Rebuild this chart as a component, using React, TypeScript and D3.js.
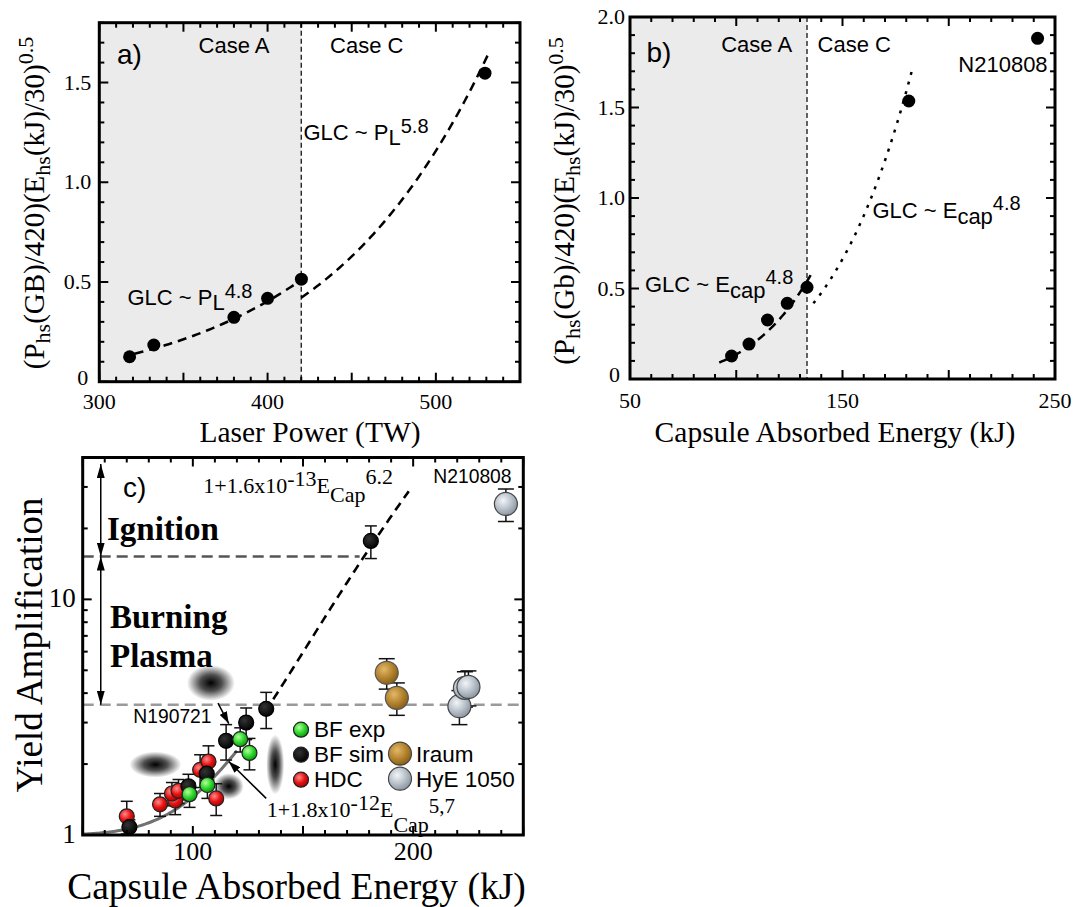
import React from 'react';
import * as d3 from 'd3';

const SERIF = '"Liberation Serif", "Times New Roman", serif';
const SANS = '"Liberation Sans", Arial, sans-serif';

// ---------------- Panel a data ----------------
const aLaserPower = [318, 332.4, 380, 400, 420.1, 529.2];
const aGlc = [0.125, 0.184, 0.323, 0.418, 0.514, 1.547];
const aXTicks = [300, 400, 500];
const aYTicks = [0, 0.5, 1.0, 1.5];
const aYTickLabels = ['0', '0.5', '1.0', '1.5'];
const aCaseBoundary = 420;
const aFitFrom = [321, 420];
const aFitTo = [422, 532];
const aFitAnchorX = [420, 420];
const aFitAnchorY = [0.51, 0.421];
const aFitExponent = [4.8, 5.8];

// ---------------- Panel b data ----------------
const bEnergy = [97.8, 106.0, 114.7, 124.0, 133.3, 181.2, 241.8];
const bGlc = [0.127, 0.193, 0.326, 0.418, 0.507, 1.536, 1.882];
const bXTicks = [50, 150, 250];
const bYTicks = [0, 0.5, 1.0, 1.5, 2.0];
const bYTickLabels = ['0', '0.5', '1.0', '1.5', '2.0'];
const bCaseBoundary = 133.3;
const bFitFrom = [92, 136.3];
const bFitTo = [136, 182.8];
const bFitAnchorX = [133.3, 136.3];
const bFitAnchorY = [0.54, 0.418];
const bFitExponent = [4.8, 4.8];

// ---------------- Panel c data ----------------
const cBfSimE = [71.2, 98.0, 106.3, 115.1, 124.2, 133.3, 180.8];
const cBfSimY = [1.08, 1.61, 1.82, 2.51, 3.0, 3.43, 17.7];
const cBfSimErr = [0.08, 0.2, 0.2, 0.43, 0.46, 0.6, 2.8];
const cBfExpE = [98.5, 106.6, 121.5, 125.7];
const cBfExpY = [1.49, 1.63, 2.55, 2.23];
const cBfExpErr = [0.18, 0.2, 0.3, 0.34];
const cHdcE = [70.0, 85.1, 92.0, 90.5, 93.5, 103.3, 107.1, 110.6];
const cHdcY = [1.2, 1.35, 1.4, 1.5, 1.54, 1.89, 2.05, 1.43];
const cHdcErr = [0.19, 0.15, 0.18, 0.17, 0.18, 0.3, 0.34, 0.22];
const cIraumE = [188.0, 192.6];
const cIraumY = [4.88, 3.82];
const cIraumErr = [0.72, 0.6];
const cHyeE = [221.0, 223.5, 225.1, 242.1];
const cHyeY = [3.52, 4.21, 4.25, 25.4];
const cHyeErr = [0.58, 0.72, 0.72, 4.0];
const cXTicks = [100, 200];
const cYTicks = [1, 10];
const cFitCoef = [1.8e-12, 1.6e-13];
const cFitExponent = [5.7, 6.2];
const cFitFrom = [50, 136.5];
const cFitTo = [120, 198];
const cIgnition = 15.2;
const cIgnitionEnd = 175.7;
const cBurning = 3.57;
const cArrowE = 58.2;
const cArrowTop = 37.5;
const cLegendLeft = ['BF exp', 'BF sim', 'HDC'];
const cLegendRight = ['Iraum', 'HyE 1050'];
// smudges in the reference picture (E, Y, rx, ry)
const cBlobE = [108.2, 83.0, 137.4, 116.3];
const cBlobY = [4.42, 1.99, 1.99, 1.61];
const cBlobRx = [24, 26, 9, 15];
const cBlobRy = [18, 13, 30, 13];

type Box = { left: number; right: number; top: number; bottom: number };

function Ticks({ box, xs, ys, xScale, yScale, xMajor, yMajor }: any) {
  const out: any[] = [];
  xs.forEach((v: number, i: number) => {
    const px = xScale(v);
    const len = xMajor(v) ? 9 : 5;
    out.push(<line key={'xb' + i} x1={px} x2={px} y1={box.bottom} y2={box.bottom - len} />);
    out.push(<line key={'xt' + i} x1={px} x2={px} y1={box.top} y2={box.top + len} />);
  });
  ys.forEach((v: number, i: number) => {
    const py = yScale(v);
    const len = yMajor(v) ? 9 : 5;
    out.push(<line key={'yl' + i} x1={box.left} x2={box.left + len} y1={py} y2={py} />);
    out.push(<line key={'yr' + i} x1={box.right} x2={box.right - len} y1={py} y2={py} />);
  });
  return <g stroke="#000" strokeWidth={2}>{out}</g>;
}

function powerFit(from: number, to: number, x0: number, y0: number, k: number) {
  return d3.range(61).map((i) => {
    const x = from + ((to - from) * i) / 60;
    return [x, y0 * Math.pow(x / x0, k)] as [number, number];
  });
}

const near = (v: number, step: number) => Math.abs(v / step - Math.round(v / step)) < 1e-6;

function PanelA() {
  const box: Box = { left: 99.3, right: 520, top: 22.7, bottom: 381.7 };
  const x = d3.scaleLinear().domain([300, 550]).range([box.left, box.right]);
  const y = d3.scaleLinear().domain([0, 1.8]).range([box.bottom, box.top]);
  const line = d3.line<[number, number]>().x((d) => x(d[0])).y((d) => y(d[1]));
  const xs = d3.range(300, 551, 10);
  const ys = d3.range(0, 19).map((i) => i / 10);
  return (
    <g>
      <rect x={box.left} y={box.top} width={x(aCaseBoundary) - box.left} height={box.bottom - box.top} fill="#ebebeb" />
      <line x1={x(aCaseBoundary)} x2={x(aCaseBoundary)} y1={box.top} y2={box.bottom} stroke="#000" strokeWidth={1.2} strokeDasharray="5,3" />
      {aFitFrom.map((f, i) => (
        <path key={i} d={line(powerFit(f, aFitTo[i], aFitAnchorX[i], aFitAnchorY[i], aFitExponent[i])) || ''} fill="none" stroke="#000" strokeWidth={2.5} strokeDasharray="9,6" />
      ))}
      {aLaserPower.map((p, i) => (
        <circle key={i} cx={x(p)} cy={y(aGlc[i])} r={6.5} fill="#000" />
      ))}
      <Ticks box={box} xs={xs} ys={ys} xScale={x} yScale={y} xMajor={(v: number) => near(v, 50)} yMajor={(v: number) => near(v, 0.5)} />
      <rect x={box.left} y={box.top} width={box.right - box.left} height={box.bottom - box.top} fill="none" stroke="#000" strokeWidth={3} />
      {aXTicks.map((t) => (
        <text key={t} x={x(t)} y={409} textAnchor="middle" fontFamily={SERIF} fontSize={22}>{t}</text>
      ))}
      {aYTicks.map((t, i) => (
        <text key={t} x={box.left - (t === 0 ? 11 : 8)} y={y(t) + (t === 0 ? 3 : 7)} textAnchor="end" fontFamily={SERIF} fontSize={22}>{aYTickLabels[i]}</text>
      ))}
      <text x={310} y={441.7} textAnchor="middle" fontFamily={SERIF} fontSize={29.5}>Laser Power (TW)</text>
      <text transform="translate(44,203) rotate(-90)" textAnchor="middle" fontFamily={SERIF} fontSize={29}>
        (P<tspan fontSize={22} dy={6}>hs</tspan><tspan dy={-6}>(GB)/420)(E</tspan><tspan fontSize={22} dy={6}>hs</tspan><tspan dy={-6}>(kJ)/30)</tspan><tspan fontSize={22} dy={-11}>0.5</tspan>
      </text>
      <text x={117} y={63.5} fontFamily={SANS} fontSize={28}>a)</text>
      <text x={234} y={53.3} textAnchor="middle" fontFamily={SANS} fontSize={22}>Case A</text>
      <text x={366.7} y={53.3} textAnchor="middle" fontFamily={SANS} fontSize={22}>Case C</text>
      <text x={303.5} y={140} fontFamily={SANS} fontSize={22}>
        GLC ~ P<tspan dy={5}>L</tspan><tspan dy={-12} fontSize={20}>5.8</tspan>
      </text>
      <text x={127.4} y={305} fontFamily={SANS} fontSize={22}>
        GLC ~ P<tspan dy={5}>L</tspan><tspan dy={-12} fontSize={20}>4.8</tspan>
      </text>
    </g>
  );
}

function PanelB() {
  const box: Box = { left: 630, right: 1055, top: 17, bottom: 379 };
  const x = d3.scaleLinear().domain([50, 250]).range([box.left, box.right]);
  const y = d3.scaleLinear().domain([0, 2]).range([box.bottom, box.top]);
  const line = d3.line<[number, number]>().x((d) => x(d[0])).y((d) => y(d[1]));
  const xs = d3.range(50, 251, 10);
  const ys = d3.range(0, 21).map((i) => i / 10);
  const styles = ['9,6', '3,7'];
  return (
    <g>
      <rect x={box.left} y={box.top} width={x(bCaseBoundary) - box.left} height={box.bottom - box.top} fill="#ebebeb" />
      <line x1={x(bCaseBoundary)} x2={x(bCaseBoundary)} y1={box.top} y2={box.bottom} stroke="#000" strokeWidth={1.2} strokeDasharray="5,3" />
      {bFitFrom.map((f, i) => (
        <path key={i} d={line(powerFit(f, bFitTo[i], bFitAnchorX[i], bFitAnchorY[i], bFitExponent[i])) || ''} fill="none" stroke="#000" strokeWidth={2.5} strokeDasharray={styles[i]} />
      ))}
      {bEnergy.map((e, i) => (
        <circle key={i} cx={x(e)} cy={y(bGlc[i])} r={6.5} fill="#000" />
      ))}
      <Ticks box={box} xs={xs} ys={ys} xScale={x} yScale={y} xMajor={(v: number) => near(v, 50)} yMajor={(v: number) => near(v, 0.5)} />
      <rect x={box.left} y={box.top} width={box.right - box.left} height={box.bottom - box.top} fill="none" stroke="#000" strokeWidth={3} />
      {bXTicks.map((t) => (
        <text key={t} x={x(t)} y={408} textAnchor="middle" fontFamily={SERIF} fontSize={22}>{t}</text>
      ))}
      {bYTicks.map((t, i) => (
        <text key={t} x={box.left - (t === 0 ? 10 : 5)} y={y(t) + (t === 0 ? 3 : 7)} textAnchor="end" fontFamily={SERIF} fontSize={22}>{bYTickLabels[i]}</text>
      ))}
      <text x={835} y={441.7} textAnchor="middle" fontFamily={SERIF} fontSize={29.5}>Capsule Absorbed Energy (kJ)</text>
      <text transform="translate(574,201) rotate(-90)" textAnchor="middle" fontFamily={SERIF} fontSize={29}>
        (P<tspan fontSize={22} dy={6}>hs</tspan><tspan dy={-6}>(Gb)/420)(E</tspan><tspan fontSize={22} dy={6}>hs</tspan><tspan dy={-6}>(kJ)/30)</tspan><tspan fontSize={22} dy={-11}>0.5</tspan>
      </text>
      <text x={646.5} y={61.7} fontFamily={SANS} fontSize={28}>b)</text>
      <text x={756.7} y={51.7} textAnchor="middle" fontFamily={SANS} fontSize={22}>Case A</text>
      <text x={854.3} y={51.7} textAnchor="middle" fontFamily={SANS} fontSize={22}>Case C</text>
      <text x={958.3} y={71.7} fontFamily={SANS} fontSize={22}>N210808</text>
      <text x={872.4} y={218.3} fontFamily={SANS} fontSize={22}>
        GLC ~ E<tspan dy={6}>cap</tspan><tspan dy={-14} fontSize={20}>4.8</tspan>
      </text>
      <text x={645} y={291.7} fontFamily={SANS} fontSize={22}>
        GLC ~ E<tspan dy={6}>cap</tspan><tspan dy={-14} fontSize={20}>4.8</tspan>
      </text>
    </g>
  );
}

function PanelC() {
  const box: Box = { left: 82.7, right: 523.3, top: 457.5, bottom: 835 };
  const x = d3.scaleLinear().domain([50, 250]).range([box.left, box.right]);
  const y = d3.scaleLog().domain([1, 40]).range([box.bottom, box.top]);
  const line = d3.line<[number, number]>().x((d) => x(d[0])).y((d) => y(d[1]));
  const xs = d3.range(50, 251, 10);
  const ys = [1, 2, 3, 4, 5, 6, 7, 8, 9, 10, 20, 30];
  const fits = cFitCoef.map((c, i) =>
    d3.range(81).map((j) => {
      const e = cFitFrom[i] + ((cFitTo[i] - cFitFrom[i]) * j) / 80;
      return [e, 1 + c * Math.pow(e, cFitExponent[i])] as [number, number];
    })
  );
  const errBars = (E: number[], Y: number[], Err: number[], key: string, cap = 6) =>
    E.map((e, i) => {
      const px = x(e);
      const y1 = y(Y[i] + Err[i]);
      const y2 = y(Math.max(1.001, Y[i] - Err[i]));
      return (
        <g key={key + i} stroke="#111" strokeWidth={1.5}>
          <line x1={px} x2={px} y1={y1} y2={y2} />
          <line x1={px - cap} x2={px + cap} y1={y1} y2={y1} />
          <line x1={px - cap} x2={px + cap} y1={y2} y2={y2} />
        </g>
      );
    });
  const dots = (E: number[], Y: number[], fill: string, stroke: string, r: number, key: string) =>
    E.map((e, i) => <circle key={key + i} cx={x(e)} cy={y(Y[i])} r={r} fill={fill} stroke={stroke} strokeWidth={1.2} />);

  const legendY = [736.7, 761.7, 786.7];
  const legendFills = ['url(#gGreen)', 'url(#gBlack)', 'url(#gRed)'];
  const legendRightFills = ['url(#gGold)', 'url(#gGray)'];

  return (
    <g>
      {cBlobE.map((e, i) => (
        <ellipse key={'b' + i} cx={x(e)} cy={y(cBlobY[i])} rx={cBlobRx[i]} ry={cBlobRy[i]} fill="url(#blob)" />
      ))}
      {/* threshold lines */}
      <line x1={box.left} x2={x(cIgnitionEnd)} y1={y(cIgnition)} y2={y(cIgnition)} stroke="#555" strokeWidth={2.5} strokeDasharray="11,6" />
      <line x1={box.left} x2={box.right} y1={y(cBurning)} y2={y(cBurning)} stroke="#9a9a9a" strokeWidth={2.5} strokeDasharray="11,6" />
      {/* arrows */}
      <line x1={x(cArrowE)} x2={x(cArrowE)} y1={y(cArrowTop)} y2={y(cIgnition)} stroke="#000" strokeWidth={1.5} markerStart="url(#arrow)" markerEnd="url(#arrow)" />
      <line x1={x(cArrowE)} x2={x(cArrowE)} y1={y(cIgnition)} y2={y(cBurning)} stroke="#000" strokeWidth={1.5} markerStart="url(#arrow)" markerEnd="url(#arrow)" />
      {/* fits */}
      <path d={line(fits[0]) || ''} fill="none" stroke="#707070" strokeWidth={3} />
      <path d={line(fits[1]) || ''} fill="none" stroke="#000" strokeWidth={2.6} strokeDasharray="9,6" />
      {/* error bars */}
      {errBars(cHdcE, cHdcY, cHdcErr, 'eh')}
      {errBars(cBfSimE, cBfSimY, cBfSimErr, 'es')}
      {errBars(cBfExpE, cBfExpY, cBfExpErr, 'ex')}
      {errBars(cIraumE, cIraumY, cIraumErr, 'ei', 8)}
      {errBars(cHyeE, cHyeY, cHyeErr, 'ey', 8)}
      {/* points */}
      {dots(cHdcE, cHdcY, 'url(#gRed)', '#222', 7.5, 'h')}
      {dots(cBfSimE, cBfSimY, 'url(#gBlack)', '#000', 7.5, 's')}
      {dots(cBfExpE, cBfExpY, 'url(#gGreen)', '#222', 7.5, 'x')}
      {dots(cIraumE, cIraumY, 'url(#gGold)', '#555', 11.5, 'i')}
      {dots(cHyeE, cHyeY, 'url(#gGray)', '#444', 11.5, 'y')}
      {/* annotation arrows */}
      <line x1={x(111.4)} y1={y(3.63)} x2={x(116.3)} y2={y(2.97)} stroke="#000" strokeWidth={1.5} markerEnd="url(#arrowS)" />
      <line x1={x(133.3)} y1={y(1.43)} x2={x(116.3)} y2={y(2.05)} stroke="#000" strokeWidth={1.5} markerEnd="url(#arrowS)" />
      <Ticks box={box} xs={xs} ys={ys} xScale={x} yScale={y} xMajor={(v: number) => near(v, 50)} yMajor={(v: number) => v === 1 || v === 10} />
      <rect x={box.left} y={box.top} width={box.right - box.left} height={box.bottom - box.top} fill="none" stroke="#000" strokeWidth={3} />
      {cXTicks.map((t) => (
        <text key={t} x={x(t)} y={860} textAnchor="middle" fontFamily={SERIF} fontSize={26}>{t}</text>
      ))}
      {cYTicks.map((t) => (
        <text key={t} x={box.left - 7} y={y(t) + 8} textAnchor="end" fontFamily={SERIF} fontSize={27}>{t}</text>
      ))}
      <text x={296.5} y={899} textAnchor="middle" fontFamily={SERIF} fontSize={37.5}>Capsule Absorbed Energy (kJ)</text>
      <text transform="translate(42,645) rotate(-90)" textAnchor="middle" fontFamily={SERIF} fontSize={37}>Yield Amplification</text>
      <text x={123} y={497} fontFamily={SANS} fontSize={28}>c)</text>
      <text x={203.3} y={493.3} fontFamily={SERIF} fontSize={22}>
        1+1.6x10<tspan dy={-7}>-13</tspan><tspan dy={7}>E</tspan><tspan dy={9}>Cap</tspan><tspan dy={-18}>6.2</tspan>
      </text>
      <text x={266.7} y={816.7} fontFamily={SERIF} fontSize={22}>
        1+1.8x10<tspan dy={-7}>-12</tspan><tspan dy={7}>E</tspan><tspan dy={15}>Cap</tspan><tspan dy={-19} fontSize={21}>5,7</tspan>
      </text>
      <text x={433.3} y={483.3} fontFamily={SANS} fontSize={19.3}>N210808</text>
      <text x={133.3} y={723.3} fontFamily={SANS} fontSize={19.3}>N190721</text>
      <text x={107} y={540} fontFamily={SERIF} fontWeight="bold" fontSize={33}>Ignition</text>
      <text x={110} y={628.3} fontFamily={SERIF} fontWeight="bold" fontSize={33}>Burning</text>
      <text x={110} y={666.7} fontFamily={SERIF} fontWeight="bold" fontSize={33}>Plasma</text>
      {cLegendLeft.map((l, i) => (
        <g key={l}>
          <circle cx={301} cy={legendY[i] - 7} r={7.5} fill={legendFills[i]} stroke="#222" strokeWidth={1.2} />
          <text x={314} y={legendY[i]} fontFamily={SANS} fontSize={22.5}>{l}</text>
        </g>
      ))}
      {cLegendRight.map((l, i) => (
        <g key={l}>
          <circle cx={400} cy={legendY[i + 1] - 8} r={11.5} fill={legendRightFills[i]} stroke="#444" strokeWidth={1.2} />
          <text x={416} y={legendY[i + 1]} fontFamily={SANS} fontSize={22.5}>{l}</text>
        </g>
      ))}
    </g>
  );
}

export default function App() {
  return (
    <svg width={1075} height={907} style={{ position: 'absolute', left: 0, top: 0, background: '#fff' }}>
      <defs>
        <radialGradient id="gGreen" cx="0.38" cy="0.35" r="0.7">
          <stop offset="0" stopColor="#b6ff9a" />
          <stop offset="0.55" stopColor="#2bd62b" />
          <stop offset="1" stopColor="#0b8f0b" />
        </radialGradient>
        <radialGradient id="gRed" cx="0.38" cy="0.35" r="0.7">
          <stop offset="0" stopColor="#ff8a8a" />
          <stop offset="0.55" stopColor="#e41212" />
          <stop offset="1" stopColor="#a30000" />
        </radialGradient>
        <radialGradient id="gBlack" cx="0.38" cy="0.35" r="0.7">
          <stop offset="0" stopColor="#333" />
          <stop offset="1" stopColor="#000" />
        </radialGradient>
        <radialGradient id="gGold" cx="0.38" cy="0.35" r="0.75">
          <stop offset="0" stopColor="#e2b868" />
          <stop offset="0.55" stopColor="#b0802c" />
          <stop offset="1" stopColor="#7c5612" />
        </radialGradient>
        <radialGradient id="gGray" cx="0.38" cy="0.35" r="0.75">
          <stop offset="0" stopColor="#f2f5f8" />
          <stop offset="0.55" stopColor="#b3bcc5" />
          <stop offset="1" stopColor="#7f8a95" />
        </radialGradient>
        <radialGradient id="blob" cx="0.5" cy="0.5" r="0.5">
          <stop offset="0" stopColor="#000" stopOpacity={1} />
          <stop offset="0.45" stopColor="#000" stopOpacity={0.7} />
          <stop offset="1" stopColor="#000" stopOpacity={0} />
        </radialGradient>
        <marker id="arrow" viewBox="0 0 14 8" refX={14} refY={4} markerWidth={14} markerHeight={8} markerUnits="userSpaceOnUse" orient="auto-start-reverse">
          <path d="M0,0 L14,4 L0,8 z" fill="#000" />
        </marker>
        <marker id="arrowS" viewBox="0 0 12 8" refX={12} refY={4} markerWidth={12} markerHeight={8} markerUnits="userSpaceOnUse" orient="auto">
          <path d="M0,0 L12,4 L0,8 z" fill="#000" />
        </marker>
      </defs>
      <rect x={0} y={0} width={1075} height={907} fill="#fff" />
      <PanelA />
      <PanelB />
      <PanelC />
    </svg>
  );
}
